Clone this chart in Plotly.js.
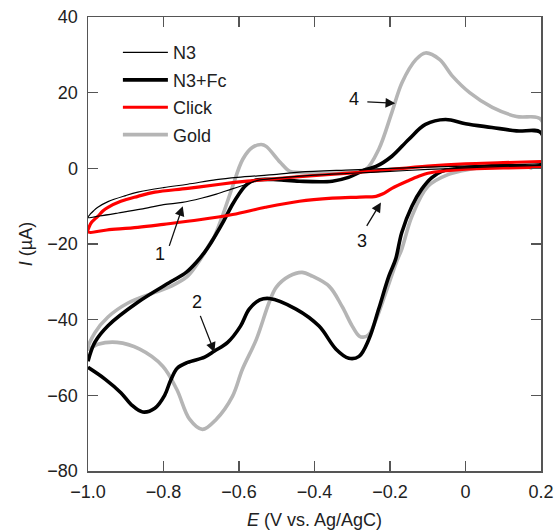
<!DOCTYPE html>
<html>
<head>
<meta charset="utf-8">
<script src="https://cdn.plot.ly/plotly-3.0.1.min.js"></script>
<style>html,body{margin:0;padding:0;background:#fff;}#chart{width:556px;height:531px;}</style>
</head>
<body>
<div id="chart"></div>
<script>
// Potentials E (V vs. Ag/AgCl) and currents I (µA), each loop traced around the voltammogram
const n3E = [0.2, 0.1, 0.0, -0.1, -0.2, -0.3, -0.4, -0.5, -0.55, -0.58, -0.62, -0.66, -0.7, -0.75, -0.8, -0.86, -0.92, -0.97, -1.0, -0.993, -0.985, -0.974, -0.947, -0.9, -0.868, -0.8, -0.736, -0.66, -0.604, -0.5, -0.44, -0.3, -0.2, -0.1, 0.0, 0.1, 0.2];
const n3I = [0.8, 0.5, 0.1, -0.3, -0.8, -1.3, -1.8, -2.6, -3.2, -4.2, -5.5, -6.8, -7.9, -9.0, -9.6, -10.8, -11.8, -12.6, -13.0, -12.0, -11.2, -10.3, -8.8, -7.2, -6.3, -5.1, -4.2, -3.0, -2.4, -1.6, -1.0, -0.4, 0.0, 0.3, 0.6, 0.9, 1.2];

const fcE = [-1.0, -0.982, -0.947, -0.868, -0.781, -0.74, -0.71, -0.69, -0.675, -0.66, -0.64, -0.617, -0.6, -0.585, -0.57, -0.55, -0.5, -0.44, -0.353, -0.31, -0.264, -0.237, -0.195, -0.15, -0.106, -0.053, 0.0, 0.07, 0.135, 0.2,
             0.2, 0.1, 0.008, -0.03, -0.063, -0.09, -0.116, -0.142, -0.169, -0.185, -0.203, -0.23, -0.256, -0.282, -0.309, -0.343, -0.388, -0.449, -0.52, -0.545, -0.573, -0.596, -0.63, -0.665, -0.691, -0.736, -0.763, -0.781, -0.797, -0.823, -0.855, -0.885, -0.913, -0.955, -1.0];
const fcI = [-51, -46, -41.6, -35.4, -30, -27.5, -24.5, -22, -19.8, -17.3, -13.8, -9.5, -6.8, -4.8, -3.6, -3.0, -3.0, -3.4, -3.4, -2.4, -0.3, 0.5, 3.2, 7.7, 11.6, 12.9, 11.8, 10.8, 9.9, 9.4,
             1.0, 0.8, 0.3, -0.2, -0.8, -2.5, -5.5, -10, -17, -24, -28.5, -37.2, -45.2, -49.7, -50.2, -47.8, -41.7, -37.2, -34.4, -34.8, -37.2, -41.7, -46, -48.3, -49.9, -51.3, -52.8, -56.0, -60.0, -63.4, -64.4, -62.5, -59.3, -55.7, -52.6];

const clickE = [0.2, 0.1, 0.0, -0.05, -0.1, -0.124, -0.15, -0.195, -0.22, -0.237, -0.28, -0.353, -0.44, -0.53, -0.617, -0.705, -0.8, -0.868, -0.95, -1.0, -0.997, -0.99, -0.974, -0.96, -0.947, -0.913, -0.868, -0.823, -0.736, -0.65, -0.578, -0.5, -0.44, -0.3, -0.23, -0.1, 0.0, 0.1, 0.2];
const clickI = [0.3, 0.1, -0.2, -0.6, -1.3, -2.1, -3.2, -5.3, -6.8, -7.4, -7.6, -7.9, -8.7, -10.3, -12.2, -13.6, -14.8, -15.6, -16.3, -16.8, -15.5, -14.2, -12.7, -11.2, -10.3, -8.7, -7.4, -6.3, -5.3, -4.2, -3.4, -2.7, -2.2, -1.2, -0.6, 0.6, 1.2, 1.5, 1.8];

const goldE = [-1.0, -0.982, -0.947, -0.894, -0.823, -0.781, -0.736, -0.702, -0.675, -0.665, -0.64, -0.617, -0.59, -0.565, -0.541, -0.528, -0.491, -0.465, -0.44, -0.35, -0.3, -0.264, -0.23, -0.195, -0.168, -0.131, -0.106, -0.069, -0.034, 0.011, 0.071, 0.135, 0.2,
               0.2, 0.1, 0.008, -0.045, -0.1, -0.142, -0.169, -0.182, -0.211, -0.237, -0.256, -0.269, -0.282, -0.3, -0.327, -0.361, -0.406, -0.433, -0.467, -0.501, -0.52, -0.554, -0.591, -0.617, -0.66, -0.697, -0.731, -0.765, -0.802, -0.863, -0.923, -0.974, -1.0];
const goldI = [-47.8, -43.5, -39.3, -35.6, -32.8, -31.2, -28.5, -24, -19.6, -18.0, -11.5, -4.8, 2.4, 5.5, 6.3, 5.8, 1.6, -0.8, -1.1, -1.3, -1.0, -0.3, 5, 14.8, 22.7, 28.8, 30.5, 28.8, 24.3, 20, 16.1, 13.7, 12.9,
               1.5, 0.8, -0.3, -1.6, -4.8, -12.7, -21.4, -24.5, -32.8, -40, -43.9, -44.6, -44.3, -41.7, -36.5, -31.2, -28.5, -27.5, -28.5, -31.4, -35.4, -45.2, -53.1, -60.2, -66.3, -69, -66.3, -58.4, -52.3, -47.8, -46, -46.5, -47.8];

const xTickVals = [-1.0, -0.8, -0.6, -0.4, -0.2, 0, 0.2];
const xTickText = ['\u22121.0', '\u22120.8', '\u22120.6', '\u22120.4', '\u22120.2', '0', '0.2'];
const yTickVals = [40, 20, 0, -20, -40, -60, -80];
const yTickText = ['40', '20', '0', '\u221220', '\u221240', '\u221260', '\u221280'];

const labels = [
  {text: '1', x: -0.81, y: -22.7, tailX: -0.786, tailY: -20.9, tipX: -0.749, tipY: -10.0},
  {text: '2', x: -0.712, y: -35.4, tailX: -0.704, tailY: -38.6, tipX: -0.665, tipY: -48.6},
  {text: '3', x: -0.274, y: -19.3, tailX: -0.264, tailY: -15.6, tipX: -0.224, tipY: -9.0},
  {text: '4', x: -0.296, y: 18.2, tailX: -0.264, tailY: 17.6, tipX: -0.186, tipY: 17.2}
];

const FONT = 'Liberation Sans, Arial, Helvetica, sans-serif';
const sp = 1.0;

const traces = [
  {x: goldE, y: goldI, name: 'Gold', mode: 'lines', legendrank: 4, legendgroup: 'g4',
   line: {color: '#b5b5b5', width: 3.6, shape: 'spline', smoothing: sp}},
  {x: fcE, y: fcI, name: 'N3+Fc', mode: 'lines', legendrank: 2, legendgroup: 'g2',
   line: {color: '#000000', width: 3.6, shape: 'spline', smoothing: sp}},
  {x: clickE, y: clickI, name: 'Click', mode: 'lines', legendrank: 3, legendgroup: 'g3',
   line: {color: '#ff0000', width: 3.2, shape: 'spline', smoothing: sp}},
  {x: n3E, y: n3I, name: 'N3', mode: 'lines', legendrank: 1, legendgroup: 'g1',
   line: {color: '#000000', width: 1.2, shape: 'spline', smoothing: sp}}
];

const annotations = [];
labels.forEach(l => {
  annotations.push({x: l.x, y: l.y, xref: 'x', yref: 'y', text: l.text, showarrow: false,
    font: {family: FONT, size: 18, color: '#111'}});
  annotations.push({x: l.tipX, y: l.tipY, ax: l.tailX, ay: l.tailY, xref: 'x', yref: 'y',
    axref: 'x', ayref: 'y', text: '', showarrow: true, arrowhead: 2, arrowsize: 1.5,
    arrowwidth: 1.3, arrowcolor: '#111', standoff: 0, startstandoff: 0});
});

const axisCommon = {
  showgrid: false, zeroline: false, showline: true, linecolor: '#555', linewidth: 1.5,
  mirror: 'ticks', ticks: 'inside', ticklen: 10, tickwidth: 1.5, tickcolor: '#555',
  tickfont: {family: FONT, size: 18, color: '#222'}, tickmode: 'array'
};

const layout = {
  width: 556, height: 531,
  margin: {l: 88, r: 15, t: 17, b: 60},
  paper_bgcolor: '#fff', plot_bgcolor: '#fff',
  font: {family: FONT, size: 18, color: '#222'},
  showlegend: true,
  legend: {x: 0.066, y: 0.962, xanchor: 'left', yanchor: 'top', bgcolor: 'rgba(0,0,0,0)',
    font: {family: FONT, size: 18, color: '#222'}, traceorder: 'grouped', tracegroupgap: 1,
    itemwidth: 45},
  xaxis: Object.assign({}, axisCommon, {range: [-1.0, 0.2], tickvals: xTickVals, ticktext: xTickText,
    ticklabelstandoff: 4,
    title: {text: '<i>E</i> (V vs. Ag/AgC)\u00a0\u00a0\u00a0\u00a0\u00a0\u00a0\u00a0\u00a0', font: {family: FONT, size: 18, color: '#222'}, standoff: 12}}),
  yaxis: Object.assign({}, axisCommon, {range: [-80, 40], tickvals: yTickVals, ticktext: yTickText,
    ticklabelstandoff: 5,
    title: {text: '<i>I</i> (\u00b5A)', font: {family: FONT, size: 18, color: '#222'}, standoff: 10}}),
  annotations: annotations
};

Plotly.newPlot('chart', traces, layout, {displayModeBar: false, staticPlot: true});
</script>
</body>
</html>
